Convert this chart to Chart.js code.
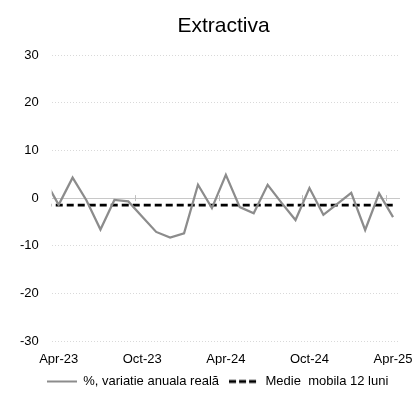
<!DOCTYPE html>
<html>
<head>
<meta charset="utf-8">
<script src="https://cdn.jsdelivr.net/npm/chart.js@4/dist/chart.umd.min.js"></script>
<style>
  html, body { margin: 0; padding: 0; background: #fff; }
  #wrap { width: 415px; height: 401px; }
</style>
</head>
<body>
<div id="wrap"><canvas id="myChart"></canvas></div>
<script>
// months, first one (Mar-23) sits half a month outside the plot and gets clipped
var months = ["Mar-23", "Apr-23", "May-23", "Jun-23", "Jul-23", "Aug-23", "Sep-23", "Oct-23", "Nov-23",
  "Dec-23", "Jan-24", "Feb-24", "Mar-24", "Apr-24", "May-24", "Jun-24", "Jul-24", "Aug-24", "Sep-24",
  "Oct-24", "Nov-24", "Dec-24", "Jan-25", "Feb-25", "Mar-25", "Apr-25"];
var variatie = [3.8, -1.4, 4.3, -0.5, -6.6, -0.4, -0.7, -3.9, -7.1, -8.3, -7.4, 2.8, -2.1,
  4.9, -1.9, -3.2, 2.8, -1.0, -4.6, 2.1, -3.5, -1.2, 1.1, -6.7, 1.0, -4.0];
var medie = [-1.5, -1.5, -1.5, -1.5, -1.5, -1.5, -1.5, -1.5, -1.5, -1.5, -1.5, -1.5, -1.5,
  -1.5, -1.5, -1.5, -1.5, -1.5, -1.5, -1.5, -1.5, -1.5, -1.5, -1.5, -1.5, -1.5];
var tickLabels = ["Apr-23", "Oct-23", "Apr-24", "Oct-24", "Apr-25"];
var yTicks = [30, 20, 10, 0, -10, -20, -30];

// month index: Apr-23 = 0
function toPoints(arr) {
  return arr.map(function (v, i) { return { x: i - 1, y: v }; });
}
var tickPos = tickLabels.map(function (l) { return months.indexOf(l) - 1; });

// legend line samples (solid / dashed)
function legendLine(color, width, dash) {
  var c = document.createElement('canvas');
  c.width = 30;
  c.height = 6;
  var g = c.getContext('2d');
  g.strokeStyle = color;
  g.lineWidth = width;
  g.setLineDash(dash);
  g.beginPath();
  g.moveTo(0, 3);
  g.lineTo(30, 3);
  g.stroke();
  return c;
}

Chart.defaults.font.family = "'Liberation Sans', Arial, sans-serif";
Chart.defaults.color = '#000';

// small tick marks on the zero line, between categories
var zeroTicks = {
  id: 'zeroTicks',
  beforeDatasetsDraw: function (chart) {
    var x = chart.scales.x, y = chart.scales.y, c = chart.ctx;
    var y0 = y.getPixelForValue(0);
    c.save();
    c.strokeStyle = '#bfbfbf';
    c.lineWidth = 1;
    tickPos.forEach(function (p) {
      if (p === 0) return;
      var px = Math.round(x.getPixelForValue(p - 0.5)) + 0.5;
      c.beginPath();
      c.moveTo(px, y0 - 3);
      c.lineTo(px, y0 + 3);
      c.stroke();
    });
    c.restore();
  }
};

// title sits centred over the plot rather than the whole canvas
var titleShift = {
  id: 'titleShift',
  afterLayout: function (chart) {
    chart.titleBlock.left += 12;
  }
};

var ctx = document.getElementById('myChart').getContext('2d');
var chart1 = new Chart(ctx, {
  type: 'line',
  data: {
    datasets: [{
      label: "%, variatie anuala reală",
      data: toPoints(variatie),
      borderColor: '#8c8c8c',
      backgroundColor: '#8c8c8c',
      borderWidth: 2.25,
      pointRadius: 0,
      pointStyle: legendLine('#8c8c8c', 2, []),
      tension: 0
    }, {
      label: "Medie  mobila 12 luni",
      data: toPoints(medie),
      borderColor: '#000',
      backgroundColor: '#000',
      borderWidth: 2.75,
      borderDash: [7, 4],
      pointRadius: 0,
      pointStyle: legendLine('#000', 3, [7, 3]),
      tension: 0
    }]
  },
  plugins: [zeroTicks, titleShift],
  options: {
    responsive: true,
    maintainAspectRatio: false,
    animation: false,
    layout: { padding: { left: 20, right: 0, top: 0, bottom: 3 } },
    plugins: {
      title: {
        display: true,
        text: 'Extractiva',
        font: { size: 21, weight: 'normal' },
        color: '#000',
        padding: { top: 14, bottom: 16 }
      },
      legend: {
        position: 'bottom',
        labels: {
          usePointStyle: true,
          pointStyleWidth: 30,
          font: { size: 13 },
          color: '#000',
          padding: 10
        }
      },
      tooltip: { enabled: false }
    },
    scales: {
      x: {
        type: 'linear',
        min: -0.5,
        max: 24.5,
        afterBuildTicks: function (s) {
          s.ticks = tickPos.map(function (v) { return { value: v }; });
        },
        afterFit: function (s) {
          s.height = 24;
          s.paddingLeft = 0;
          s.paddingRight = 0;
        },
        ticks: {
          autoSkip: false,
          maxRotation: 0,
          padding: 11,
          font: { size: 13 },
          callback: function (v) { return tickLabels[tickPos.indexOf(v)]; }
        },
        grid: { display: false, drawTicks: false },
        border: { display: false }
      },
      y: {
        min: -30,
        max: 30,
        afterBuildTicks: function (s) {
          s.ticks = yTicks.map(function (v) { return { value: v }; });
        },
        afterFit: function (s) { s.width = 31.7; },
        ticks: { padding: 13, font: { size: 13 } },
        grid: {
          drawTicks: false,
          lineWidth: 1,
          color: function (c) { return c.tick && c.tick.value === 0 ? '#c8c8c8' : '#d9d9d9'; }
        },
        border: {
          display: false,
          dash: function (c) { return c.tick && c.tick.value === 0 ? [] : [1, 2]; }
        }
      },
      yR: {
        position: 'right',
        display: true,
        afterFit: function (s) { s.width = 15; },
        ticks: { display: false },
        grid: { display: false, drawTicks: false },
        border: { display: false }
      }
    }
  }
});
</script>
</body>
</html>
